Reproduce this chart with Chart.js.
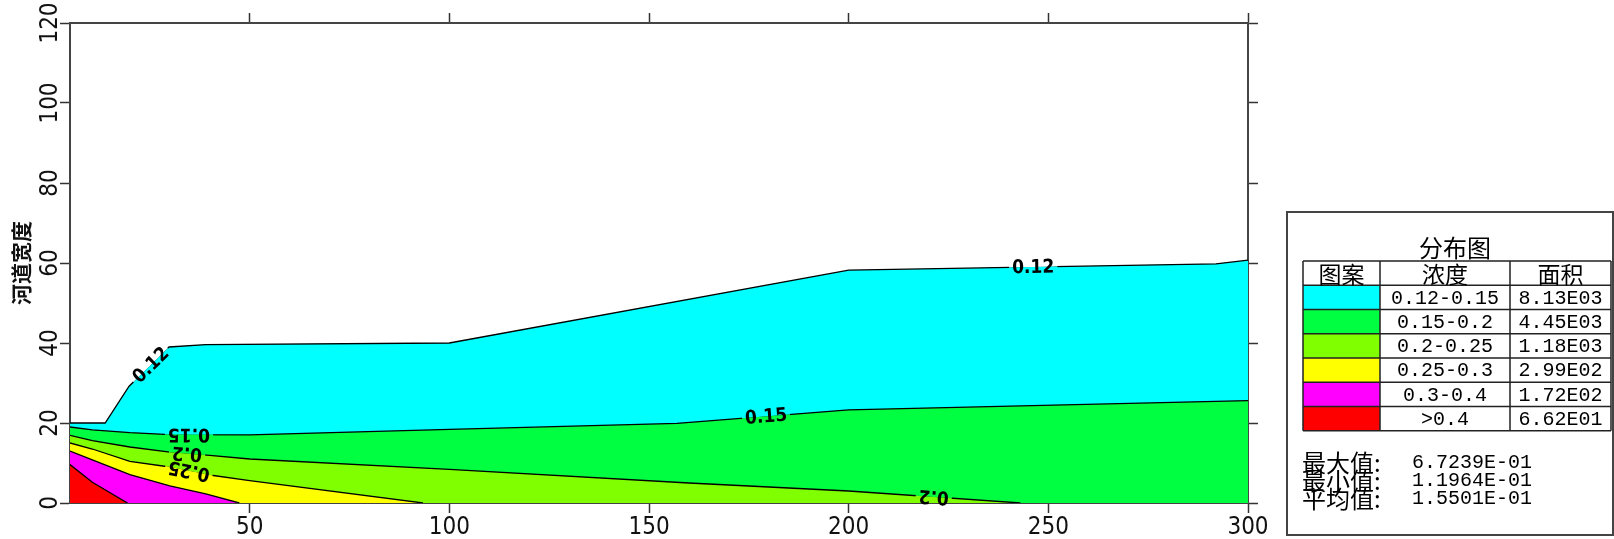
<!DOCTYPE html>
<html>
<head>
<meta charset="utf-8">
<script src="https://cdn.jsdelivr.net/npm/chart.js@4.4.0/dist/chart.umd.min.js"></script>
<style>
  html, body { margin: 0; padding: 0; background: #fff; }
  canvas { display: block; }
</style>
</head>
<body>
<canvas id="chart" width="1614" height="539"></canvas>
<script>
// Contour boundaries, top to bottom (x = distance, y = river width)
const line012X = [5, 13.8, 19.8, 29.8, 39, 100, 200, 292, 300];
const line012Y = [20, 20, 29.2, 39, 39.6, 40, 58.2, 59.8, 60.7];
const line015X = [5, 10.6, 20, 30, 50, 100, 157, 200, 300];
const line015Y = [19.0, 18.3, 17.6, 17.1, 17.05, 18.4, 19.9, 23.3, 25.6];
const line020X = [5, 10.6, 20, 30, 40, 50, 100, 160, 200, 243];
const line020Y = [16.9, 15.6, 14.0, 12.7, 11.9, 11.0, 8.4, 5.0, 3.0, 0];
const line025X = [5, 10.6, 20, 30, 40, 50, 93.4];
const line025Y = [15.0, 13.5, 10.4, 9.0, 7.0, 5.6, 0];
const line030X = [5, 10.6, 20, 30, 39, 47.4];
const line030Y = [13.0, 10.8, 7.1, 4.3, 2.3, 0];
const line040X = [5, 10.6, 19.4];
const line040Y = [9.6, 5.2, 0];

const boundsX = [line012X, line015X, line020X, line025X, line030X, line040X];
const boundsY = [line012Y, line015Y, line020Y, line025Y, line030Y, line040Y];
const bandColors = ['#00ffff', '#00ff40', '#80ff00', '#ffff00', '#ff00ff', '#ff0000'];

// Labels written on the contour lines
const labelLine = [0, 1, 2, 3, 1, 0, 2];
const labelX = [25.2, 34.8, 34.3, 34.8, 179.3, 246.2, 221.3];
const labelText = ['0.12', '0.15', '0.2', '0.25', '0.15', '0.12', '0.2'];
const labelFlip = [false, true, true, true, false, false, true];

// Legend panel
const legendTitle = '分布图';
const legendHeaders = ['图案', '浓度', '面积'];
const legendRanges = ['0.12-0.15', '0.15-0.2', '0.2-0.25', '0.25-0.3', '0.3-0.4', '>0.4'];
const legendAreas = ['8.13E03', '4.45E03', '1.18E03', '2.99E02', '1.72E02', '6.62E01'];
const statNames = ['最大值:', '最小值:', '平均值:'];
const statValues = ['6.7239E-01', '1.1964E-01', '1.5501E-01'];

const narrowFont = "'Liberation Sans Narrow', 'Arial Narrow', 'DejaVu Sans Condensed', 'Liberation Sans', sans-serif";
const cjkFont = "'Noto Sans CJK SC', sans-serif";
const monoFont = "'Liberation Mono', 'DejaVu Sans Mono', monospace";

function yAt(xs, ys, x) {
    for (let i = 1; i < xs.length; i++) {
        if (x <= xs[i]) {
            const t = (x - xs[i - 1]) / (xs[i] - xs[i - 1]);
            return ys[i - 1] + t * (ys[i] - ys[i - 1]);
        }
    }
    return ys[ys.length - 1];
}

// red band first so it is drawn on top
const datasets = boundsX.map((xs, i) => ({
    data: xs.map((x, j) => ({ x: x, y: boundsY[i][j] })),
    borderColor: '#000',
    borderWidth: 1.3,
    backgroundColor: bandColors[i],
    fill: 'origin',
    pointRadius: 0,
    tension: 0
})).reverse();

const contourLabels = {
    id: 'contourLabels',
    afterDatasetsDraw(chart) {
        const c = chart.ctx;
        const xs = chart.scales.x;
        const ys = chart.scales.y;
        const area = chart.chartArea;
        labelText.forEach((text, k) => {
            const li = labelLine[k];
            const lx = boundsX[li], ly = boundsY[li];
            const x = labelX[k];
            const px = xs.getPixelForValue(x);
            const py = ys.getPixelForValue(yAt(lx, ly, x));
            const ax = xs.getPixelForValue(x - 1.5), ay = ys.getPixelForValue(yAt(lx, ly, x - 1.5));
            const bx = xs.getPixelForValue(x + 1.5), by = ys.getPixelForValue(yAt(lx, ly, x + 1.5));
            const angle = Math.atan2(by - ay, bx - ax);
            c.save();
            c.font = 'bold 19px ' + narrowFont;
            const w = c.measureText(text).width + 6;
            // cover the line under the text with the band colours
            c.save();
            c.beginPath();
            c.rect(area.left, area.top, area.right - area.left, area.bottom - area.top);
            c.clip();
            c.translate(px, py);
            c.rotate(angle);
            c.fillStyle = li === 0 ? '#ffffff' : bandColors[li - 1];
            c.fillRect(-w / 2, -3, w, 3);
            c.fillStyle = bandColors[li];
            c.fillRect(-w / 2, 0, w, 3);
            c.restore();
            c.translate(px, py);
            c.rotate(angle + (labelFlip[k] ? Math.PI : 0));
            c.fillStyle = '#000';
            c.textAlign = 'center';
            c.textBaseline = 'middle';
            c.fillText(text, 0, 1);
            c.restore();
        });
    }
};

const legendPanel = {
    id: 'legendPanel',
    afterDraw(chart) {
        const c = chart.ctx;
        c.save();
        c.strokeStyle = '#444';
        c.lineWidth = 2;
        c.strokeRect(1287, 212, 326, 323);

        c.fillStyle = '#000';
        c.textAlign = 'center';
        c.textBaseline = 'middle';
        c.font = '24px ' + cjkFont;
        c.fillText(legendTitle, 1455, 248);

        const cols = [1303, 1380, 1510, 1611];
        const top = 261, rowH = 24.25;
        bandColors.forEach((col, i) => {
            c.fillStyle = col;
            c.fillRect(cols[0], top + rowH * (i + 1), cols[1] - cols[0], rowH);
        });
        c.strokeStyle = '#222';
        c.lineWidth = 1.5;
        c.beginPath();
        for (let r = 0; r <= 7; r++) {
            c.moveTo(cols[0], top + rowH * r);
            c.lineTo(cols[3], top + rowH * r);
        }
        cols.forEach(x => {
            c.moveTo(x, top);
            c.lineTo(x, top + rowH * 7);
        });
        c.stroke();

        c.fillStyle = '#000';
        c.font = '23px ' + cjkFont;
        legendHeaders.forEach((h, j) => c.fillText(h, (cols[j] + cols[j + 1]) / 2, top + rowH / 2 + 1));
        c.font = '20px ' + monoFont;
        legendRanges.forEach((t, i) => {
            const y = top + rowH * (i + 1.5) + 1;
            c.fillText(t, (cols[1] + cols[2]) / 2, y);
            c.fillText(legendAreas[i], (cols[2] + cols[3]) / 2, y);
        });

        c.textAlign = 'left';
        statNames.forEach((n, i) => {
            const y = 463 + 18 * i;
            c.font = '24px ' + cjkFont;
            c.fillText(n, 1302, y);
            c.font = '20px ' + monoFont;
            c.fillText(statValues[i], 1412, y);
        });
        c.restore();
    }
};

const axisGrid = { drawOnChartArea: false, tickLength: 10, tickColor: '#333', tickWidth: 1.5 };
const axisBorder = { color: '#444', width: 2 };
const tickFont = { family: narrowFont, size: 24 };

new Chart(document.getElementById('chart'), {
    type: 'line',
    data: { datasets: datasets },
    options: {
        responsive: false,
        animation: false,
        layout: { padding: { top: 13, right: 356, bottom: 0, left: 0 } },
        plugins: { legend: { display: false }, tooltip: { enabled: false } },
        scales: {
            x: {
                type: 'linear', position: 'bottom', min: 5, max: 300,
                ticks: { stepSize: 50, includeBounds: false, font: tickFont, color: '#111', padding: 0 },
                grid: axisGrid, border: axisBorder,
                afterFit: s => { s.height = 36; }
            },
            x2: {
                type: 'linear', position: 'top', min: 5, max: 300,
                ticks: { display: false, stepSize: 50, includeBounds: false },
                grid: axisGrid, border: axisBorder,
                afterFit: s => { s.height = 10; }
            },
            y: {
                type: 'linear', position: 'left', min: 0, max: 120,
                ticks: { stepSize: 20, minRotation: 90, maxRotation: 90, crossAlign: 'center', padding: -11, font: tickFont, color: '#111' },
                title: { display: true, text: '河道宽度', color: '#111', font: { family: cjkFont, size: 21, weight: 'bold' }, padding: { top: 8, bottom: 0 } },
                grid: axisGrid, border: axisBorder,
                afterFit: s => { s.width = 70; }
            },
            y2: {
                type: 'linear', position: 'right', min: 0, max: 120,
                ticks: { display: false, stepSize: 20 },
                grid: axisGrid, border: axisBorder,
                afterFit: s => { s.width = 10; }
            }
        }
    },
    plugins: [contourLabels, legendPanel]
});
</script>
</body>
</html>
